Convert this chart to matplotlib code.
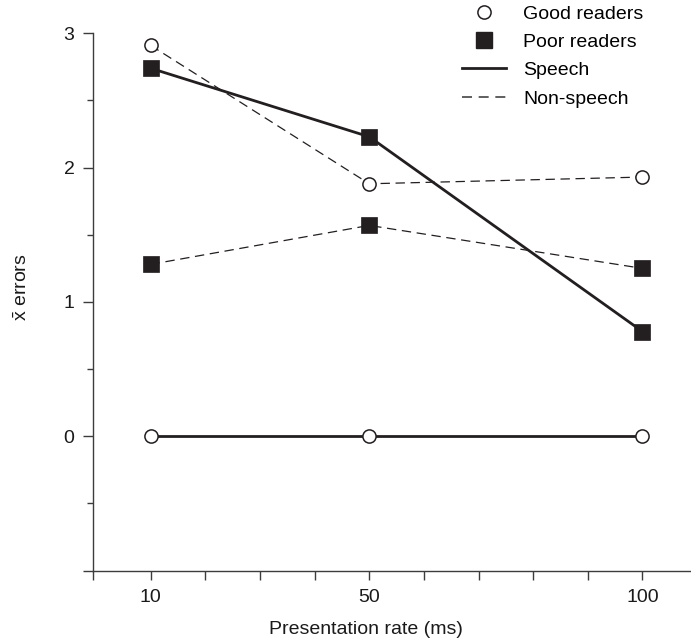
import matplotlib
matplotlib.use("Agg")
import matplotlib.pyplot as plt
from matplotlib.lines import Line2D
from matplotlib.ticker import FixedLocator

plt.rcParams['font.family'] = ['Liberation Sans', 'DejaVu Sans']
plt.rcParams['mathtext.fontset'] = 'custom'
plt.rcParams['mathtext.rm'] = 'Liberation Sans'

# presentation rates (ms)
rates = [10, 50, 100]

# mean errors
good_speech = [0.0, 0.0, 0.0]
good_nonspeech = [2.91, 1.88, 1.93]
poor_speech = [2.74, 2.23, 0.78]
poor_nonspeech = [1.28, 1.57, 1.25]

xtick_labels = ["10", "50", "100"]
ytick_major = [-1, 0, 1, 2, 3]
ytick_labels = ["", "0", "1", "2", "3"]
ytick_minor = [-0.5, 0.5, 1.5, 2.5]
xtick_minor = [-0.6, 20, 30, 40, 60, 70, 80, 90]

ink = "#231f20"
axcol = "#3c3c3c"
dash = (0, (7.5, 4.5))

fig = plt.figure(figsize=(6.91, 6.41), dpi=100)
ax = fig.add_axes([0.1342, 0.1098, 0.8644, 0.8382])

# speech = solid, non-speech = dashed
ax.plot(rates, good_speech, color=ink, lw=2.0, zorder=2)
ax.plot(rates, poor_speech, color=ink, lw=2.0, zorder=2)
ax.plot(rates, good_nonspeech, color=ink, lw=0.9, ls=dash, zorder=2)
ax.plot(rates, poor_nonspeech, color=ink, lw=0.9, ls=dash, zorder=2)

for ys in (good_speech, good_nonspeech):
    ax.plot(rates, ys, ls="none", marker="o", ms=9.5, mfc="white", mec=ink, mew=1.1, zorder=3)
for ys in (poor_speech, poor_nonspeech):
    ax.plot(rates, ys, ls="none", marker="s", ms=11, mfc=ink, mec=ink, mew=0.5, zorder=3)

ax.set_xlim(-0.6, 108.7)
ax.set_ylim(-1, 3)

ax.set_xticks(rates)
ax.set_xticklabels(xtick_labels)
ax.xaxis.set_minor_locator(FixedLocator(xtick_minor))
ax.set_yticks(ytick_major)
ax.set_yticklabels(ytick_labels)
ax.yaxis.set_minor_locator(FixedLocator(ytick_minor))

ax.tick_params(axis="x", which="both", direction="out", length=6.5, width=1.0, color=axcol,
               labelsize=14, pad=7, labelcolor="#1a1a1a")
ax.tick_params(axis="y", which="major", direction="out", length=7.2, width=1.0, color=axcol,
               labelsize=14, pad=6, labelcolor="#1a1a1a")
ax.tick_params(axis="y", which="minor", direction="out", length=4.3, width=1.0, color=axcol)

for side in ("top", "right"):
    ax.spines[side].set_visible(False)
for side in ("left", "bottom"):
    ax.spines[side].set_color(axcol)
    ax.spines[side].set_linewidth(1.0)

ax.set_xlabel("Presentation rate (ms)", fontsize=14, color="#1a1a1a")
ax.xaxis.set_label_coords(0.458, -0.094)
ax.set_ylabel(r"$\bar{\mathrm{x}}$ errors", fontsize=14, color="#1a1a1a")
ax.yaxis.set_label_coords(-0.104, 0.528)

handles = [
    Line2D([], [], ls="none", marker="o", ms=9.5, mfc="white", mec=ink, mew=1.1),
    Line2D([], [], ls="none", marker="s", ms=11, mfc=ink, mec=ink),
    Line2D([], [], color=ink, lw=2.0),
    Line2D([], [], color="#444444", lw=1.2, ls=(0, (6, 4))),
]
labels = ["Good readers", "Poor readers", "Speech", "Non-speech"]
fig.legend(handles, labels, loc="upper left", bbox_to_anchor=(462 / 691, 1 - 5 / 641),
           frameon=False, fontsize=14, handlelength=2.27, handletextpad=0.88,
           labelspacing=0.55, borderpad=0, borderaxespad=0)

fig.savefig("out.png", dpi=100)
